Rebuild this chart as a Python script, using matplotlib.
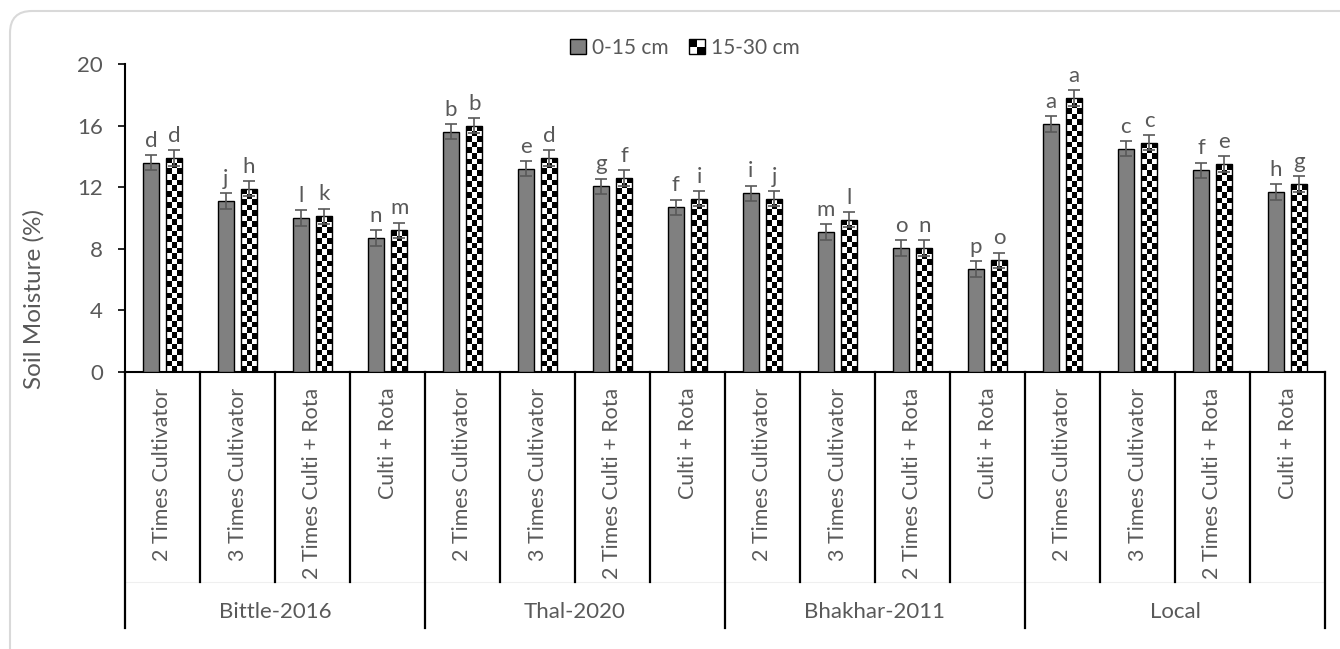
import numpy as np
import matplotlib
matplotlib.use("Agg")
import matplotlib.pyplot as plt
from matplotlib.patches import Rectangle, FancyBboxPatch
from matplotlib.legend_handler import HandlerBase
from matplotlib.transforms import IdentityTransform, blended_transform_factory

plt.rcParams['font.family'] = ['Lato', 'DejaVu Sans']

groups = ["Bittle-2016", "Thal-2020", "Bhakhar-2011", "Local"]
treatments = ["2 Times Cultivator", "3 Times Cultivator", "2 Times Culti + Rota", "Culti + Rota"]

depth_0_15 = [13.6, 11.1, 10.0, 8.7, 15.6, 13.2, 12.05, 10.7,
              11.6, 9.1, 8.05, 6.7, 16.1, 14.5, 13.1, 11.7]
depth_15_30 = [13.9, 11.9, 10.1, 9.2, 16.0, 13.9, 12.6, 11.25,
               11.25, 9.9, 8.05, 7.25, 17.8, 14.9, 13.5, 12.2]
err_0_15 = [0.5] * 16
err_15_30 = [0.5] * 16
letters_0_15 = list("djlnbegfimopacfh")
letters_15_30 = list("dhkmbdfijlnoaceg")

txt = '#595959'
fs = 16
W, H = 1340, 649
fig = plt.figure(figsize=(W / 100, H / 100), dpi=100)
ax = fig.add_axes([125 / W, 1 - 372 / H, 1200 / W, 308 / H])

n = len(depth_0_15)
x = np.arange(n)
bw = 0.222
off = 0.155

ax.bar(x - off, depth_0_15, bw, color='#808080', edgecolor='black', linewidth=1.0, zorder=3)
ax.errorbar(x - off, depth_0_15, yerr=err_0_15, fmt='none', ecolor=txt,
            elinewidth=1.2, capsize=4.5, capthick=1.2, zorder=4)

bars = ax.bar(x + off, depth_15_30, bw, facecolor='none', edgecolor='black', linewidth=1.0, zorder=3)
px_per_unit = 308 / 20
for b, v in zip(bars, depth_15_30):
    nrows = max(1, int(round(v * px_per_unit / 5.6)))
    arr = (np.add.outer(np.arange(nrows), np.arange(3)) % 2).astype(float)
    im = ax.imshow(arr, cmap='gray', vmin=0, vmax=1, interpolation='nearest', aspect='auto',
                   extent=(b.get_x(), b.get_x() + b.get_width(), 0, v), zorder=2)
    im.set_clip_path(b)
ax.errorbar(x + off, depth_15_30, yerr=err_15_30, fmt='none', ecolor=txt,
            elinewidth=1.2, capsize=4.5, capthick=1.2, zorder=4)

for i in range(n):
    ax.annotate(letters_0_15[i], (x[i] - off, depth_0_15[i] + err_0_15[i]), xytext=(0, 6),
                textcoords='offset points', ha='center', va='baseline', fontsize=fs, color=txt)
    ax.annotate(letters_15_30[i], (x[i] + off, depth_15_30[i] + err_15_30[i]), xytext=(0, 6),
                textcoords='offset points', ha='center', va='baseline', fontsize=fs, color=txt)

ax.set_xlim(-0.5, n - 0.5)
ax.set_ylim(0, 20)
ax.set_yticks(np.arange(0, 21, 4))
ax.tick_params(axis='y', length=5, width=1.2, colors='black', labelcolor=txt, labelsize=fs, pad=11)
ax.set_xticks([])
for s in ['top', 'right']:
    ax.spines[s].set_visible(False)
for s in ['left', 'bottom']:
    ax.spines[s].set_linewidth(1.5)
    ax.spines[s].set_color('black')

# multi-level category axis
tr = blended_transform_factory(ax.transData, ax.transAxes)
for i in range(n + 1):
    xb = i - 0.5
    y_end = -0.831 if i % 4 == 0 else -0.682
    ax.plot([xb, xb], [0, y_end], color='black', lw=1.6, transform=tr, clip_on=False)
ax.plot([-0.5, n - 0.5], [-0.682, -0.682], color='#efefef', lw=0.8, transform=tr, clip_on=False, zorder=0)
for i in range(n):
    ax.text(x[i], -0.05, treatments[i % 4], rotation=90, ha='center', va='top',
            fontsize=15.4, color=txt, transform=tr)
for g, name in enumerate(groups):
    ax.text(g * 4 + 1.5, -0.779, name, ha='center', va='center', fontsize=fs, color=txt, transform=tr)

fig.text(34 / W, 1 - 299 / H, "Soil Moisture (%)", rotation=90, ha='center', va='center',
         fontsize=17.5, color=txt)


class CheckerHandler(HandlerBase):
    def create_artists(self, legend, orig_handle, xdescent, ydescent, width, height, fontsize, trans):
        out = []
        w2, h2 = width / 2, height / 2
        for i in range(2):
            for j in range(2):
                c = 'black' if (i + j) % 2 == 1 else 'white'
                out.append(Rectangle((-xdescent + i * w2, -ydescent + j * h2), w2, h2,
                                     facecolor=c, edgecolor='none', transform=trans))
        out.append(Rectangle((-xdescent, -ydescent), width, height, facecolor='none',
                             edgecolor='black', lw=1.0, transform=trans))
        return out


h0 = Rectangle((0, 0), 1, 1, facecolor='#808080', edgecolor='black', lw=1.0)
h1 = Rectangle((0, 0), 1, 1)
fig.legend([h0, h1], ["0-15 cm", "15-30 cm"], handler_map={h1: CheckerHandler()},
           loc='center', bbox_to_anchor=(685 / W, 1 - 48 / H), ncol=2, frameon=False,
           fontsize=15, labelcolor=txt, handlelength=0.75, handleheight=0.75,
           handletextpad=0.3, columnspacing=1.0)

border = FancyBboxPatch((10, -30), 1400, H - 11 + 30, boxstyle="round,pad=0,rounding_size=22",
                        transform=IdentityTransform(), facecolor='none', edgecolor='#d9d9d9', lw=1.5)
fig.patches.append(border)

fig.savefig("out.png", dpi=100)
